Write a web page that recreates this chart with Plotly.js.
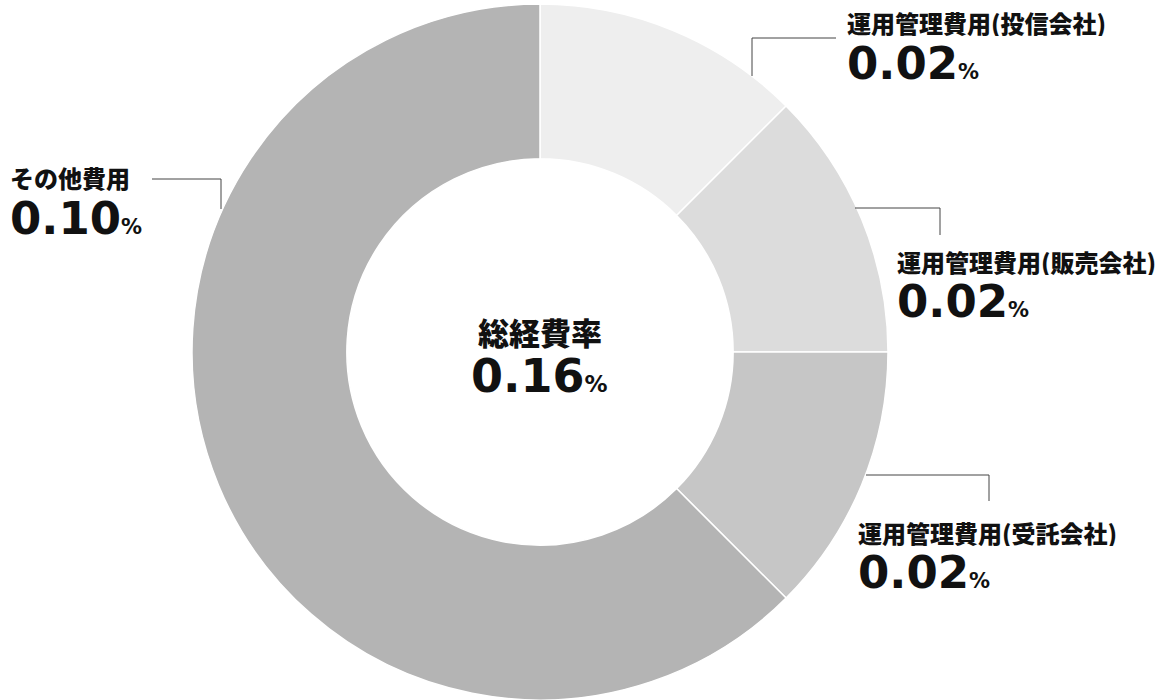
<!DOCTYPE html>
<html>
<head>
<meta charset="utf-8">
<script src="https://cdn.plot.ly/plotly-3.0.1.min.js"></script>
<style>html,body{margin:0;padding:0;background:#fff;}#chart{width:1171px;height:700px;}</style>
</head>
<body>
<div id="chart"></div>
<script>
// ---- data ----
const categories = ['運用管理費用(投信会社)', '運用管理費用(販売会社)', '運用管理費用(受託会社)', 'その他費用'];
const values = [0.02, 0.02, 0.02, 0.10];
const centerTitle = '総経費率';
const unit = '%';

// ---- styling / layout ----
const colors = ['#eeeeee', '#dcdcdc', '#c6c6c6', '#b4b4b4'];
const W = 1171, H = 700;
// label anchor positions in pixels (left edge, title centre y, value centre y)
const labelPos = [
  {x: 845, ty: 22, vy: 63},
  {x: 895, ty: 261, vy: 301},
  {x: 856, ty: 532, vy: 572},
  {x: 8, ty: 177, vy: 218}
];
// leader lines in pixels (polyline points)
const leaders = [
  [[752, 76], [752, 38], [836, 38]],
  [[855, 208], [940, 208], [940, 235]],
  [[866, 475], [989, 475], [989, 501]],
  [[152, 179], [221, 179], [221, 209]]
];

const px = x => x / W;
const py = y => 1 - y / H;

const total = values.reduce((a, b) => a + b, 0);
const fmt = v => v.toFixed(2);

const cjk = '"Noto Sans CJK JP", "Noto Sans", sans-serif';
const num = '"DejaVu Sans", Verdana, sans-serif';

const annotations = [];
categories.forEach((c, i) => {
  const p = labelPos[i];
  annotations.push({
    xref: 'paper', yref: 'paper', x: px(p.x), y: py(p.ty),
    xanchor: 'left', yanchor: 'middle', showarrow: false,
    height: 28, valign: 'middle',
    text: c,
    font: {family: cjk, size: 24, color: '#111', weight: 900}
  });
  annotations.push({
    xref: 'paper', yref: 'paper', x: px(p.x), y: py(p.vy),
    xanchor: 'left', yanchor: 'middle', showarrow: false,
    height: 46, valign: 'middle',
    text: '<b>' + fmt(values[i]) + '</b><span style="font-size:21px"><b>' + unit + '</b></span>',
    font: {family: num, size: 45, color: '#111'}
  });
});
annotations.push({
  xref: 'paper', yref: 'paper', x: px(540), y: py(331),
  xanchor: 'center', yanchor: 'middle', showarrow: false,
  text: centerTitle,
  font: {family: cjk, size: 31, color: '#111', weight: 900}
});
annotations.push({
  xref: 'paper', yref: 'paper', x: px(539), y: py(376),
  xanchor: 'center', yanchor: 'middle', showarrow: false,
  text: '<b>' + fmt(total) + '</b><span style="font-size:23px"><b>' + unit + '</b></span>',
  font: {family: num, size: 46, color: '#111'}
});

const shapes = leaders.map(pts => ({
  type: 'path', xref: 'paper', yref: 'paper',
  path: pts.map((p, k) => (k ? 'L' : 'M') + px(p[0]) + ',' + py(p[1])).join(' '),
  line: {color: '#444', width: 1}
}));

const cx = 540, cy = 352, R = 348;
const trace = {
  type: 'pie',
  labels: categories,
  values: values,
  sort: false,
  direction: 'clockwise',
  rotation: 0,
  hole: 0.555,
  textinfo: 'none',
  hoverinfo: 'label+value',
  marker: {colors: colors, line: {color: '#ffffff', width: 1.5}},
  domain: {x: [px(cx - R), px(cx + R)], y: [py(cy + R), py(cy - R)]},
  showlegend: false
};

Plotly.newPlot('chart', [trace], {
  width: W, height: H,
  margin: {l: 0, r: 0, t: 0, b: 0},
  paper_bgcolor: '#ffffff',
  showlegend: false,
  annotations: annotations,
  shapes: shapes
}, {displayModeBar: false, staticPlot: true});
</script>
</body>
</html>
